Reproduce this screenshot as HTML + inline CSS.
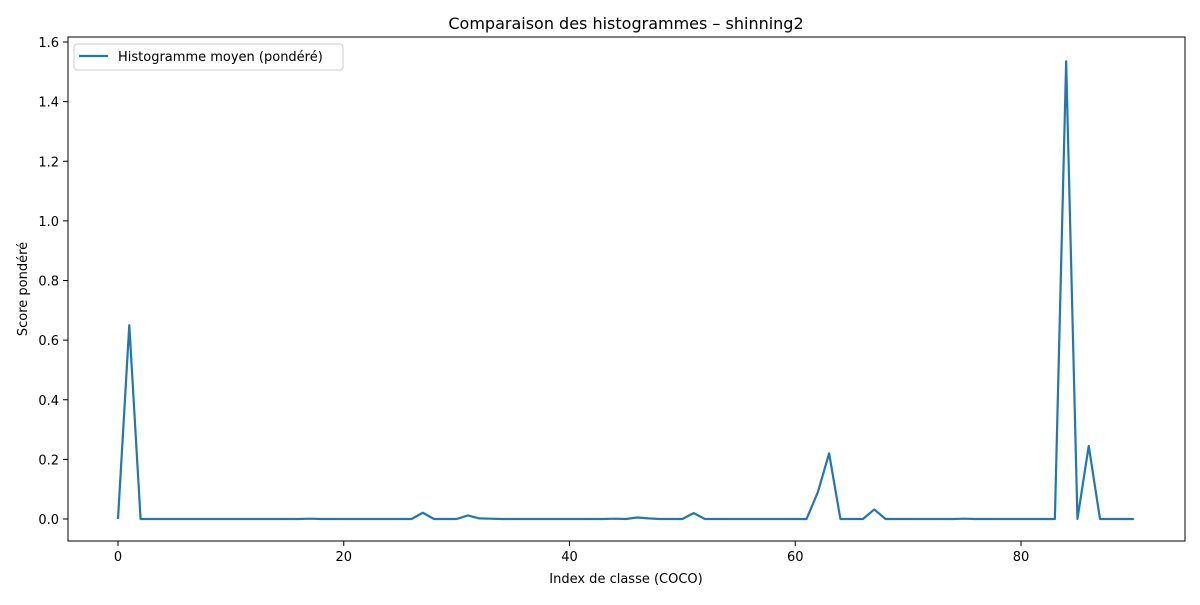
<!DOCTYPE html>
<html><head><meta charset="utf-8"><style>
body{margin:0;background:#fff}
svg{font-family:"DejaVu Sans","Liberation Sans",sans-serif}
</style></head><body>
<svg id="c" width="1200" height="600">
<rect x="0" y="0" width="1200" height="600" fill="#fff"/>
<text x="626" y="29" font-size="16" text-anchor="middle">Comparaison des histogrammes – shinning2</text>
<g id="plot"></g>
<rect x="68" y="37" width="1117" height="504" fill="none" stroke="#000" stroke-width="1"/>
<text x="626" y="583" font-size="13" text-anchor="middle">Index de classe (COCO)</text>
<text transform="translate(27,289) rotate(-90)" font-size="13" text-anchor="middle">Score pondéré</text>
<g>
<rect x="74" y="44" width="269" height="26" rx="3" fill="#fff" stroke="#ccc"/>
<line x1="79" y1="56" x2="108" y2="56" stroke="#1f77b4" stroke-width="2.2"/>
<text x="118" y="61" font-size="13">Histogramme moyen (pondéré)</text>
</g>
</svg>
<script>
const values = [0,0.65,0,0,0,0,0,0,0,0, 0,0,0,0,0,0,0,0.001,0,0, 0,0,0,0,0,0,0,0.021,0,0, 0,0.012,0.002,0.001,0,0,0,0,0,0, 0,0,0,0,0.001,0,0.005,0.002,0,0, 0,0.02,0,0,0,0,0,0,0,0, 0,0,0.09,0.22,0,0,0,0.032,0,0, 0,0,0,0,0,0.001,0,0,0,0, 0,0,0,0,1.535,0,0.245,0,0,0,0];
const xTicks = [0,20,40,60,80];
const yTicks = [0,0.2,0.4,0.6,0.8,1.0,1.2,1.4,1.6];
const NS='http://www.w3.org/2000/svg';
const g=document.getElementById('plot');
const X=v=>118+v*(1021-118)/80;
const Y=v=>519-v*(519-42)/1.6;
function mk(t,a){const e=document.createElementNS(NS,t);for(const k in a)e.setAttribute(k,a[k]);g.appendChild(e);return e;}
xTicks.forEach(t=>{
  const l=mk('line',{x1:X(t),x2:X(t),y1:541,y2:546,stroke:'#000'});
  
  
  const s=mk('text',{x:X(t),y:561,'font-size':13,'text-anchor':'middle'});s.textContent=t;
  
  
});
yTicks.forEach(t=>{
  const l=mk('line',{x1:63,x2:68,y1:Y(t),y2:Y(t),stroke:'#000'});
  
  
  const s=mk('text',{x:59,y:Y(t)+5,'font-size':13,'text-anchor':'end'});s.textContent=t.toFixed(1);
  
  
});
const p=mk('polyline',{points:values.map((v,i)=>X(i)+','+Y(v)).join(' '),fill:'none',stroke:'#1f77b4','stroke-width':2.2,'stroke-linejoin':'round'});


</script>
</body></html>
